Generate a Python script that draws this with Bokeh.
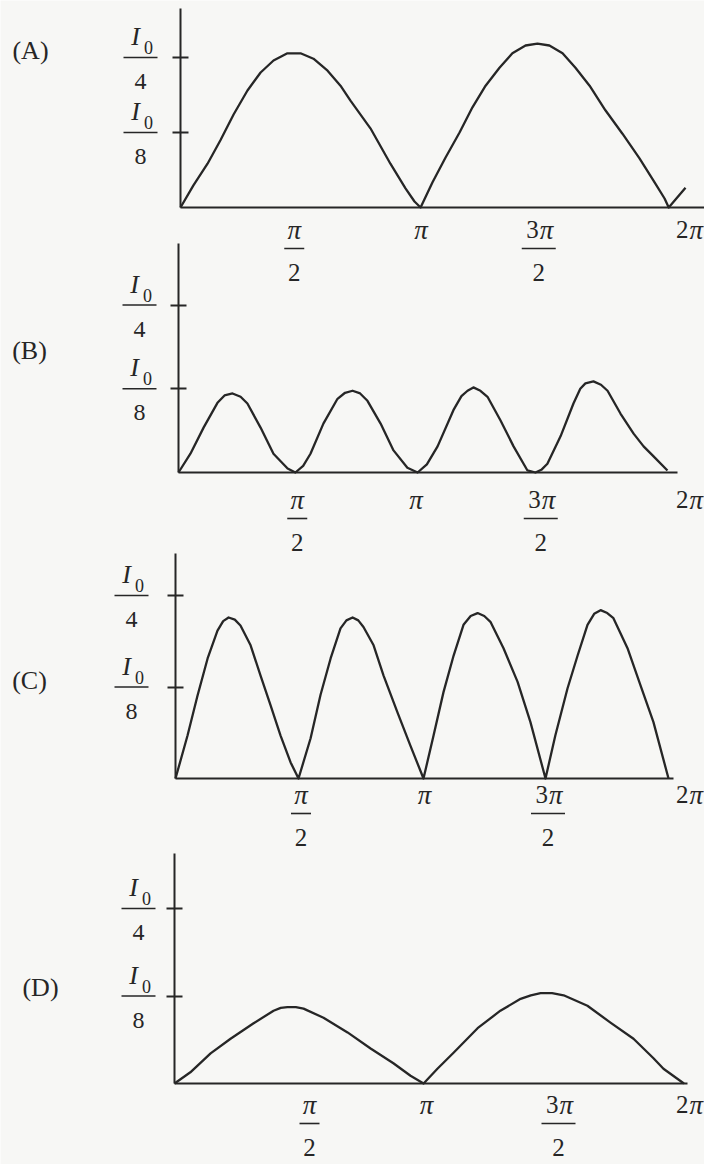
from bokeh.plotting import figure
from bokeh.models import Range1d, LinearAxis, FixedTicker
from bokeh.core.properties import value
from bokeh.embed import file_html
from bokeh.resources import INLINE

# ---------------- data ----------------
panel_labels = ["(A)", "(B)", "(C)", "(D)"]

# x ticks: angle in units of pi
x_ticks = [0.5, 1.0, 1.5, 2.0]
x_tick_coef = ["", "", "3", "2"]      # coefficient written before pi
x_tick_den = ["2", "", "2", ""]       # denominator ("" = none)

# y ticks: intensity in units of I0
y_ticks = [0.125, 0.25]
y_tick_den = ["8", "4"]

# curves (theta / pi, I / I0)
a_theta = [0, 0.053, 0.111, 0.164, 0.218, 0.275, 0.329, 0.382, 0.439, 0.493, 0.546, 0.604,
           0.657, 0.698, 0.78, 0.862, 0.924, 0.961, 0.986,
           1.035, 1.088, 1.146, 1.199, 1.253, 1.31, 1.363, 1.417, 1.466, 1.515, 1.569,
           1.622, 1.68, 1.745, 1.815, 1.885, 1.947, 1.988, 2.005, 2.074]
a_int = [0, 0.037, 0.073, 0.112, 0.155, 0.195, 0.225, 0.245, 0.257, 0.257, 0.248, 0.228,
         0.203, 0.178, 0.132, 0.073, 0.032, 0.01, 0,
         0.042, 0.083, 0.125, 0.167, 0.203, 0.233, 0.257, 0.27, 0.273, 0.27, 0.257,
         0.233, 0.203, 0.162, 0.123, 0.082, 0.042, 0.015, 0, 0.033]

b_theta = [0, 0.049, 0.103, 0.160, 0.189, 0.222, 0.255, 0.283, 0.337, 0.390, 0.448, 0.480, 0.512,
           0.542, 0.595, 0.653, 0.684, 0.715, 0.746, 0.776, 0.830, 0.883, 0.940, 0.982, 1.02,
           1.064, 1.129, 1.162, 1.187, 1.211, 1.240, 1.269, 1.322, 1.376, 1.433, 1.466, 1.49,
           1.515, 1.569, 1.622, 1.650, 1.671, 1.704, 1.735, 1.762, 1.815, 1.869, 1.910, 1.951, 2.008]
b_int = [0, 0.028, 0.067, 0.104, 0.115, 0.118, 0.113, 0.103, 0.067, 0.028, 0.006, 0, 0.01,
         0.028, 0.073, 0.110, 0.119, 0.122, 0.118, 0.107, 0.073, 0.033, 0.007, 0, 0.012,
         0.039, 0.093, 0.114, 0.122, 0.127, 0.122, 0.113, 0.078, 0.039, 0.003, 0, 0.004,
         0.013, 0.054, 0.103, 0.125, 0.133, 0.136, 0.131, 0.122, 0.088, 0.058, 0.039, 0.024, 0.003]

c_theta = [0, 0.049, 0.089, 0.130, 0.170, 0.193, 0.215, 0.240, 0.263, 0.304, 0.344, 0.385,
           0.425, 0.466, 0.498,
           0.547, 0.587, 0.628, 0.668, 0.692, 0.717, 0.740, 0.761, 0.802, 0.842, 0.899, 0.951, 1.004,
           1.045, 1.085, 1.126, 1.166, 1.195, 1.223, 1.250, 1.275, 1.328, 1.385, 1.437, 1.498,
           1.538, 1.587, 1.628, 1.668, 1.695, 1.721, 1.748, 1.773, 1.830, 1.883, 1.935, 1.996]
c_int = [0, 0.059, 0.113, 0.164, 0.202, 0.215, 0.220, 0.217, 0.209, 0.182, 0.141, 0.100,
         0.059, 0.022, 0,
         0.055, 0.114, 0.164, 0.205, 0.216, 0.220, 0.216, 0.207, 0.182, 0.141, 0.090, 0.045, 0,
         0.059, 0.118, 0.168, 0.210, 0.222, 0.226, 0.222, 0.214, 0.178, 0.132, 0.077, 0,
         0.059, 0.123, 0.168, 0.210, 0.225, 0.230, 0.226, 0.219, 0.178, 0.127, 0.077, 0]

d_theta = [0, 0.062, 0.141, 0.219, 0.309, 0.387, 0.415, 0.441, 0.474, 0.504, 0.582, 0.676,
           0.766, 0.855, 0.922, 0.973,
           1.027, 1.090, 1.184, 1.273, 1.352, 1.392, 1.430, 1.475, 1.520, 1.613, 1.703, 1.793,
           1.871, 1.910, 1.99]
d_int = [0, 0.016, 0.043, 0.064, 0.086, 0.104, 0.108, 0.109, 0.109, 0.107, 0.094, 0.073,
         0.050, 0.029, 0.011, 0,
         0.021, 0.044, 0.079, 0.104, 0.121, 0.126, 0.129, 0.129, 0.126, 0.111, 0.087, 0.064,
         0.036, 0.021, 0]

curves = [(a_theta, a_int), (b_theta, b_int), (c_theta, c_int), (d_theta, d_int)]

# ---------------- layout (page pixels) ----------------
W, H = 704, 1164
FONT = "Liberation Serif"
INK = "#262626"
BG = "#f7f7f5"

layouts = [
    dict(ax=180, kx=243.5, base=207, ky=600, top=8, right=704, ydx=-40, xdy=22,
         xshift=[-8, -3, -7, 21], name=(30, 50)),
    dict(ax=178, kx=243.5, base=472, ky=670, top=243, right=677, ydx=-39, xdy=27,
         xshift=[-3, -6, -3, 23], name=(29, 350)),
    dict(ax=175, kx=247, base=778, ky=732, top=553, right=673, ydx=-44, xdy=16,
         xshift=[2, 2, 2, 19], name=(29, 680)),
    dict(ax=174, kx=256, base=1083, ky=700, top=853, right=687, ydx=-36, xdy=21,
         xshift=[7, -4, 0, 2], name=(40, 987)),
]

p = figure(width=W, height=H, x_range=Range1d(0, W), y_range=Range1d(0, H),
           x_axis_type=None, y_axis_type=None, toolbar_location=None,
           output_backend="svg", min_border=0, outline_line_color=None,
           background_fill_color=BG, border_fill_color=BG)

xr, yr = {}, {}
for i, L in enumerate(layouts):
    xr[f"x{i}"] = Range1d(-L["ax"] / L["kx"], (W - L["ax"]) / L["kx"])
    yr[f"y{i}"] = Range1d((L["base"] - H) / L["ky"], L["base"] / L["ky"])
p.extra_x_ranges = xr
p.extra_y_ranges = yr

txt = dict(text_font=value(FONT), text_color=INK, text_align="center",
           text_baseline="middle")

for i, (L, (cx, cy)) in enumerate(zip(layouts, curves)):
    xn, yn = f"x{i}", f"y{i}"
    kx, ky, ax, base = L["kx"], L["ky"], L["ax"], L["base"]
    rn = dict(x_range_name=xn, y_range_name=yn)

    # y axis
    yax = LinearAxis(fixed_location=0, bounds=(0, (base - L["top"]) / ky),
                     ticker=FixedTicker(ticks=y_ticks),
                     major_label_overrides={t: "" for t in y_ticks},
                     major_label_text_alpha=0,
                     axis_line_color=INK, axis_line_width=2,
                     major_tick_line_color=INK, major_tick_line_width=2,
                     major_tick_in=8, major_tick_out=8,
                     minor_tick_line_color=None, **rn)
    p.add_layout(yax, "left")

    # x axis
    xax = LinearAxis(fixed_location=0, bounds=(0, (L["right"] - ax) / kx),
                     ticker=FixedTicker(ticks=[]),
                     axis_line_color=INK, axis_line_width=2,
                     major_tick_line_color=None, minor_tick_line_color=None,
                     major_label_text_alpha=0, **rn)
    p.add_layout(xax, "below")

    # curve
    p.line(cx, cy, line_color=INK, line_width=2.3, line_join="round", **rn)

    # y tick labels: I0 / n
    c = L["ydx"]
    n = len(y_ticks)
    p.text(x=[(c - 5) / kx] * n, y=[t + 21 / ky for t in y_ticks],
           text=["I"] * n, text_font_size="26px", text_font_style="italic", **txt, **rn)
    p.text(x=[(c + 8) / kx] * n, y=[t + 10 / ky for t in y_ticks],
           text=["0"] * n, text_font_size="18px", **txt, **rn)
    p.text(x=[c / kx] * n, y=[t - 24 / ky for t in y_ticks],
           text=y_tick_den, text_font_size="24px", **txt, **rn)
    p.segment(x0=[(c - 17) / kx] * n, x1=[(c + 17) / kx] * n,
              y0=y_ticks, y1=y_ticks, line_color=INK, line_width=1.6, **rn)

    # x tick labels
    ny = -L["xdy"] / ky
    by = -(L["xdy"] + 19) / ky
    dy = -(L["xdy"] + 43) / ky
    for t, coef, den, sh in zip(x_ticks, x_tick_coef, x_tick_den, L["xshift"]):
        xc = t + sh / kx
        if coef:
            p.text(x=[xc], y=[ny], text=[coef], text_font_size="25px",
                   **{**txt, "text_align": "right"}, **rn)
            p.text(x=[xc + 1 / kx], y=[ny], text=["π"], text_font_size="27px",
                   text_font_style="italic", **{**txt, "text_align": "left"}, **rn)
            half = 17
        else:
            p.text(x=[xc], y=[ny], text=["π"], text_font_size="27px",
                   text_font_style="italic", **txt, **rn)
            half = 10
        if den:
            p.segment(x0=[xc - half / kx], x1=[xc + half / kx], y0=[by], y1=[by],
                      line_color=INK, line_width=1.6, **rn)
            p.text(x=[xc], y=[dy], text=[den], text_font_size="25px", **txt, **rn)

    # panel name
    nx, nyp = L["name"]
    p.text(x=[(nx - ax) / kx], y=[(base - nyp) / ky], text=[panel_labels[i]],
           text_font_size="26px", **txt, **rn)

open("out.html", "w").write(file_html(p, INLINE))
